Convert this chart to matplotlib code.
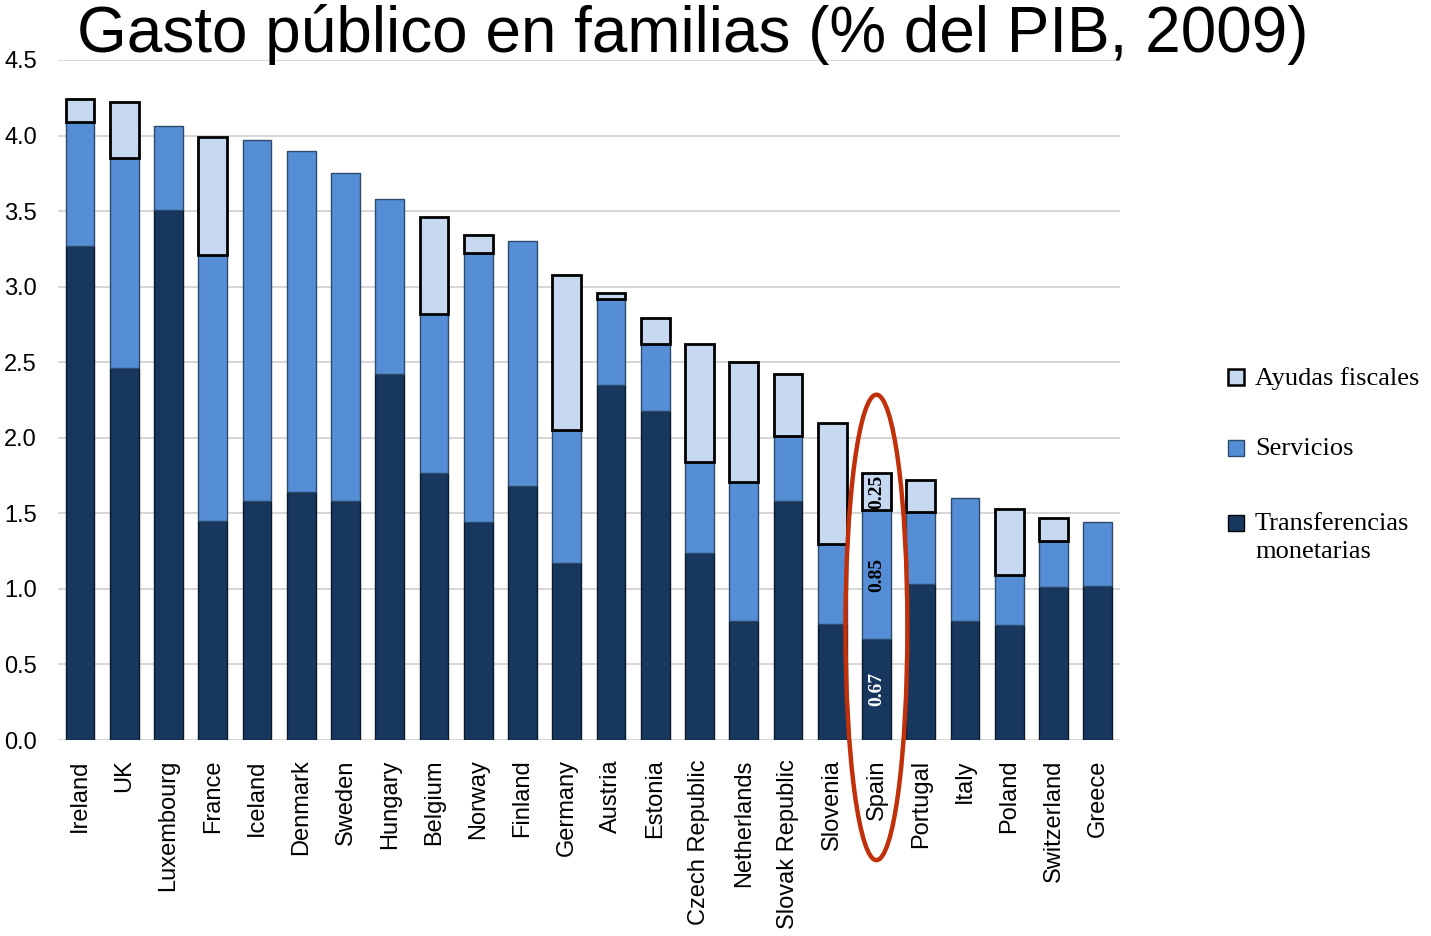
#!/usr/bin/env python3
# -*- coding: utf-8 -*-
"""
Gasto publico en familias (% del PIB, 2009) - stacked bars
"""
# IMPORT STUFF
import numpy as np
import matplotlib
matplotlib.use('Agg')
from matplotlib import pyplot as plt
from matplotlib.patches import Ellipse, Rectangle
# END IMPORT

countries = ['Ireland', 'UK', 'Luxembourg', 'France', 'Iceland', 'Denmark',
             'Sweden', 'Hungary', 'Belgium', 'Norway', 'Finland', 'Germany',
             'Austria', 'Estonia', 'Czech Republic', 'Netherlands',
             'Slovak Republic', 'Slovenia', 'Spain', 'Portugal', 'Italy',
             'Poland', 'Switzerland', 'Greece']

transferencias = [3.27, 2.46, 3.51, 1.45, 1.58, 1.64, 1.58, 2.42, 1.77, 1.44,
                  1.68, 1.17, 2.35, 2.18, 1.24, 0.79, 1.58, 0.77, 0.67, 1.03,
                  0.79, 0.76, 1.01, 1.02]
servicios = [0.82, 1.39, 0.55, 1.76, 2.39, 2.26, 2.17, 1.16, 1.05, 1.78,
             1.62, 0.88, 0.57, 0.44, 0.60, 0.92, 0.43, 0.53, 0.85, 0.48,
             0.81, 0.33, 0.31, 0.42]
ayudas = [0.15, 0.37, 0.0, 0.78, 0.0, 0.0, 0.0, 0.0, 0.64, 0.12,
          0.0, 1.03, 0.04, 0.17, 0.78, 0.79, 0.41, 0.80, 0.25, 0.21,
          0.0, 0.44, 0.15, 0.0]

spain_labels = ['0.67', '0.85', '0.25']
legend_labels = ['Ayudas fiscales', 'Servicios', 'Transferencias\nmonetarias']

C_DARK = '#17375E'
C_SERV = '#558ED5'
C_FISC = '#C6D9F1'

W, H = 1431., 936.


def px(xp, yp):
    """ pixel (from top-left) -> figure fraction """
    return xp / W, 1. - yp / H


def dofig(**kwargs):
    """ """
    x = np.arange(len(countries))
    t = np.array(transferencias)
    s = np.array(servicios)
    a = np.array(ayudas)
    w = 0.65

    fig = plt.figure(figsize=(W / 100., H / 100.), dpi=100)
    ax = fig.add_axes([0.0405, 0.2094, 0.742, 0.7265])

    ax.bar(x, t, w, color=C_DARK, edgecolor='#0A1A2A', linewidth=1.0, zorder=3)
    ax.bar(x, s, w, bottom=t, color=C_SERV, edgecolor='#2E4A6A', linewidth=1.0, zorder=3)
    sel = a > 0
    ax.bar(x[sel], a[sel], w, bottom=(t + s)[sel], color=C_FISC,
           edgecolor='black', linewidth=2.0, zorder=4)

    ax.set_xlim(-0.5, len(countries) - 0.5)
    ax.set_ylim(0, 4.5)
    ax.set_yticks(np.arange(0, 4.51, 0.5))
    ax.set_yticklabels(['%.1f' % v for v in np.arange(0, 4.51, 0.5)],
                       family='Liberation Sans', fontsize=17)
    ax.set_xticks(x)
    ax.set_xticklabels(countries, rotation=90, family='Liberation Sans', fontsize=17)
    ax.tick_params(axis='both', length=0)
    ax.tick_params(axis='y', pad=15)
    ax.tick_params(axis='x', pad=14)
    ax.yaxis.grid(True, color='#D0D0D0', linewidth=1.2, zorder=0)
    for sp in ax.spines.values():
        sp.set_visible(False)

    # Spain values written on the bar
    i = countries.index('Spain')
    mids = [t[i] / 2., t[i] + s[i] / 2., t[i] + s[i] + a[i] / 2.]
    cols = ['white', 'black', 'black']
    for lab, ym, c in zip(spain_labels, mids, cols):
        ax.text(i, ym, lab, rotation=90, ha='center', va='center', color=c,
                family='Liberation Serif', fontweight='bold', fontsize=14, zorder=5)

    # red ring around Spain
    ell = Ellipse((i, 0.745), 1.4, 3.08, fill=False, edgecolor='#C0300A',
                  linewidth=3.2, clip_on=False, zorder=6)
    ax.add_patch(ell)

    # legend drawn by hand (marker sits on the first text line)
    faces = [C_FISC, C_SERV, C_DARK]
    edges = [('black', 1.8), ('#2E4A6A', 1.0), ('black', 1.0)]
    rows = [377, 448, 523]
    for fc, (ec, lw), yp, lab in zip(faces, edges, rows, legend_labels):
        x0, y0 = px(1228, yp + 8)
        fig.patches.append(Rectangle((x0, y0), 16 / W, 16 / H, facecolor=fc,
                                     edgecolor=ec, linewidth=lw,
                                     transform=fig.transFigure, figure=fig))
        tx, ty = px(1255, yp - 10)
        fig.text(tx, ty, lab, ha='left', va='top', family='Liberation Serif',
                 fontsize=19, linespacing=1.35)

    fig.text(0.4843, 0.944, kwargs['title'], ha='center', va='baseline',
             family='Liberation Sans', fontsize=46)

    fig.savefig('out.png', dpi=100)


if __name__ == '__main__':
    dofig(title=u'Gasto público en familias (% del PIB, 2009)')
